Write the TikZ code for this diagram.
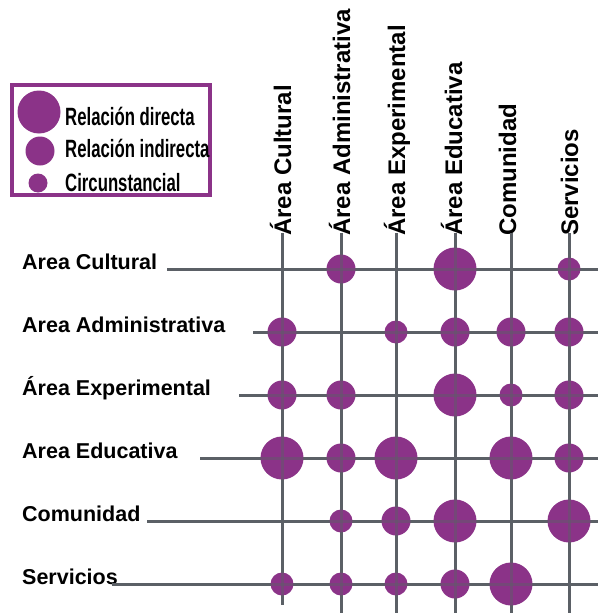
\documentclass[tikz,border=0pt]{standalone}
\usepackage{fontspec}
\setmainfont{Liberation Sans}
\newfontfamily\leyenda[FakeStretch=0.67]{Liberation Sans}

\definecolor{morado}{RGB}{139,51,136}
\definecolor{gris}{RGB}{91,96,102}

\tikzset{
  linea/.style={gris,line width=3pt},
  punto/.style={circle,fill=morado,inner sep=0pt},
  rel/.style={punto,minimum size=43pt},
  ind/.style={punto,minimum size=29pt},
  cir/.style={punto,minimum size=23pt},
  fila/.style={anchor=base west,inner sep=0pt,font=\fontsize{21.5}{21.5}\selectfont\bfseries},
  colum/.style={rotate=90,anchor=base west,inner sep=0pt,font=\fontsize{24}{24}\selectfont\bfseries},
  leytxt/.style={anchor=base west,inner sep=0pt,font=\leyenda\fontsize{25}{25}\selectfont\bfseries}
}

% rejilla: lineas horizontales y verticales
\newcommand\lineas[1]{%
  \foreach \i in {1,...,6} \draw[linea,draw opacity=#1] (h\i) -- (e\i);
  \foreach \j in {1,...,6} \draw[linea,draw opacity=#1] (v\j) -- (b\j);
}

\begin{document}
\begin{tikzpicture}[x=1pt,y=-1pt]
  \useasboundingbox (0,0) rectangle (598,613);

  % filas
  \foreach \i/\y/\txt/\xs in {1/269/Area Cultural/167,2/332/Area Administrativa/253,
      3/395/Área Experimental/239,4/458/Area Educativa/200,5/521/Comunidad/147,6/584/Servicios/112}{
    \node[fila] (f\i) at (22,\y) {\txt};
    \coordinate (h\i) at (\xs,\y);
    \coordinate (e\i) at (598,\y);
  }

  % columnas
  \foreach \j/\x/\txt/\d/\ye in {1/282/Área Cultural/9/605,2/341/Área Administrativa/9/613,
      3/396/Área Experimental/9/613,4/455/Área Educativa/7/613,5/511/Comunidad/5/613,6/569/Servicios/9/613}{
    \coordinate (v\j) at (\x,233);
    \coordinate (b\j) at (\x,\ye);
    \node[colum] (k\j) at (\x+\d,236) {\txt};
  }

  \lineas{1}

  % relaciones
  \foreach \i/\j/\tipo in {1/2/ind,1/4/rel,1/6/cir,
      2/1/ind,2/3/cir,2/4/ind,2/5/ind,2/6/ind,
      3/1/ind,3/2/ind,3/4/rel,3/5/cir,3/6/ind,
      4/1/rel,4/2/ind,4/3/rel,4/5/rel,4/6/ind,
      5/2/cir,5/3/ind,5/4/rel,5/6/rel,
      6/1/cir,6/2/cir,6/3/cir,6/4/ind,6/5/rel}{
    \node[\tipo] (p\i\j) at (v\j |- h\i) {};
  }

  \lineas{0.45}

  % leyenda
  \draw[morado,line width=4pt] (12,85) rectangle (210,195);
  \node[rel] (l1) at (39,112) {};
  \node[ind] (l2) at (40,151) {};
  \node[cir,minimum size=19pt] (l3) at (38,183) {};
  \node[leytxt] (t1) at (65,125) {Relación directa};
  \node[leytxt] (t2) at (65,157) {Relación indirecta};
  \node[leytxt] (t3) at (65,191) {Circunstancial};
\end{tikzpicture}
\end{document}
